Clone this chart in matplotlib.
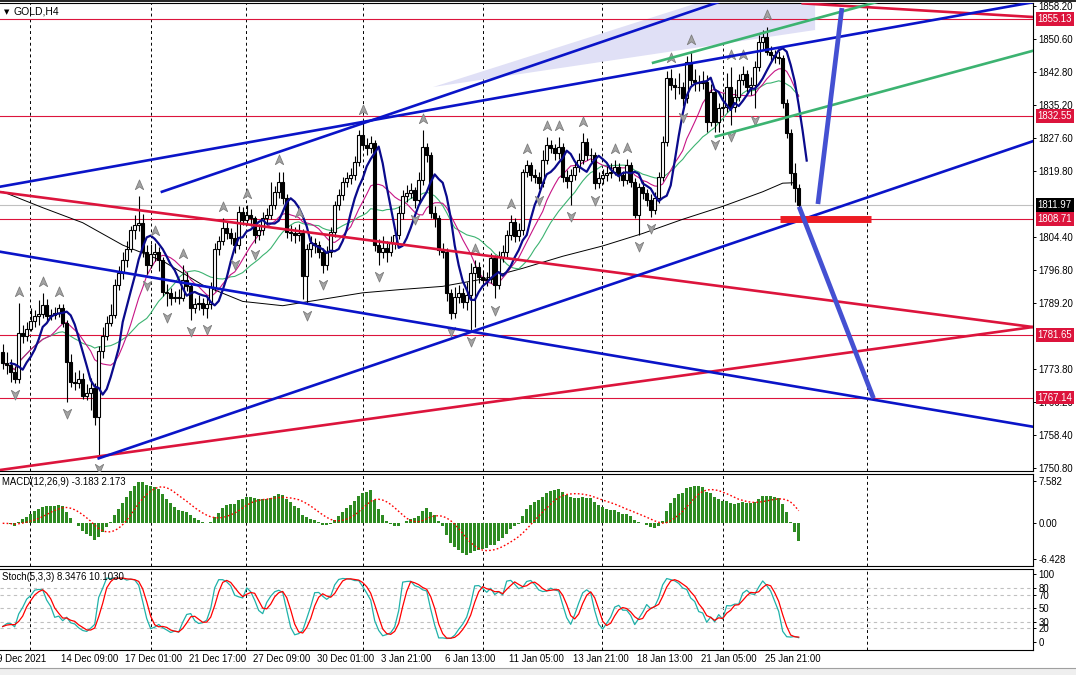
import numpy as np
import pandas as pd
import matplotlib
matplotlib.use("Agg")
import matplotlib.pyplot as plt
import matplotlib.transforms as mtransforms
from matplotlib.path import Path
from matplotlib.patches import Polygon, Rectangle
from matplotlib.lines import Line2D

plt.rcParams['font.family'] = ['Liberation Sans', 'DejaVu Sans']

# ---- GOLD H4 candles (bar index 0..199), open = previous close
first_open = 1777.8
closes = [
    1775.1, 1774.7, 1773.2, 1771.5, 1782.1, 1781.5, 1783.2, 1785.0, 1786.0, 1786.5,
    1788.7, 1786.0, 1786.3, 1786.7, 1787.9, 1784.4, 1775.5, 1770.8, 1770.5, 1771.5,
    1767.5, 1768.1, 1769.3, 1762.7, 1778.0, 1781.5, 1784.4, 1786.3, 1793.3, 1796.0,
    1799.1, 1801.8, 1806.1, 1807.3, 1807.7, 1801.1, 1798.0, 1800.5, 1801.0, 1799.1,
    1791.8, 1791.4, 1790.2, 1790.6, 1790.2, 1794.5, 1793.0, 1787.9, 1789.0, 1789.1,
    1787.9, 1789.0, 1792.9, 1801.8, 1803.5, 1806.5, 1805.3, 1804.2, 1802.6, 1810.4,
    1808.5, 1809.6, 1808.8, 1804.9, 1806.0, 1808.8, 1809.6, 1812.0, 1815.0, 1817.3,
    1813.5, 1805.7, 1805.3, 1804.9, 1805.5, 1795.3, 1801.8, 1803.0, 1802.6, 1801.1,
    1798.0, 1801.1, 1805.7, 1811.9, 1814.2, 1817.3, 1818.1, 1818.9, 1822.0, 1828.2,
    1825.9, 1825.1, 1826.3, 1802.6, 1801.1, 1802.0, 1801.1, 1803.0, 1805.0, 1810.0,
    1813.9, 1814.6, 1815.4, 1813.1, 1817.7, 1825.5, 1823.5, 1810.0, 1808.8, 1801.5,
    1801.1, 1791.4, 1786.7, 1790.6, 1791.4, 1789.4, 1791.0, 1796.0, 1797.6, 1795.2,
    1794.5, 1794.8, 1799.5, 1793.3, 1799.9, 1801.1, 1804.9, 1808.0, 1804.6, 1806.1,
    1819.7, 1821.2, 1818.9, 1818.5, 1817.0, 1822.4, 1825.9, 1825.1, 1823.9, 1825.5,
    1818.5, 1817.5, 1819.0, 1820.8, 1822.4, 1826.6, 1823.5, 1823.5, 1817.0, 1818.1,
    1818.9, 1819.3, 1819.7, 1820.8, 1818.9, 1817.7, 1821.2, 1817.3, 1809.6, 1816.0,
    1814.6, 1813.1, 1810.7, 1813.5, 1818.5, 1826.6, 1841.4, 1839.8, 1839.4, 1839.4,
    1836.7, 1845.2, 1841.0, 1840.6, 1840.2, 1840.6, 1831.3, 1838.3, 1831.3, 1834.4,
    1834.8, 1839.4, 1834.8, 1837.1, 1841.0, 1842.5, 1839.4, 1839.8, 1844.1, 1849.9,
    1851.1, 1847.6, 1846.8, 1846.4, 1846.0, 1835.6, 1828.6, 1819.3, 1815.8, 1811.97]
highs = [
    1779.5, 1777.8, 1776.0, 1774.4, 1789.1, 1784.0, 1784.6, 1787.9, 1787.5, 1789.9,
    1791.4, 1790.0, 1787.8, 1788.3, 1789.0, 1788.8, 1785.1, 1777.2, 1773.0, 1773.6,
    1772.8, 1770.4, 1771.8, 1770.5, 1779.2, 1783.6, 1786.1, 1788.9, 1794.6, 1797.8,
    1800.9, 1803.5, 1807.0, 1809.6, 1813.9, 1809.9, 1802.6, 1802.8, 1803.2, 1802.2,
    1799.9, 1793.5, 1792.6, 1792.0, 1792.4, 1797.9, 1796.4, 1793.6, 1790.4, 1791.0,
    1790.3, 1790.6, 1794.0, 1803.0, 1804.8, 1808.8, 1808.0, 1806.6, 1805.6, 1811.6,
    1811.5, 1811.9, 1810.9, 1809.4, 1807.6, 1810.2, 1811.2, 1817.3, 1816.3, 1819.7,
    1819.7, 1814.4, 1807.3, 1806.9, 1807.5, 1806.3, 1802.8, 1804.6, 1804.3, 1803.6,
    1802.0, 1802.4, 1806.8, 1812.9, 1815.7, 1818.4, 1819.6, 1820.5, 1823.4, 1829.4,
    1831.3, 1827.4, 1828.0, 1827.1, 1804.0, 1804.8, 1803.6, 1804.6, 1806.4, 1811.6,
    1815.3, 1816.5, 1817.1, 1816.2, 1819.5, 1829.4, 1826.3, 1824.2, 1811.6, 1809.7,
    1803.2, 1802.0, 1792.3, 1792.8, 1793.3, 1792.6, 1793.9, 1798.5, 1799.2, 1798.6,
    1796.6, 1796.3, 1800.8, 1800.4, 1801.2, 1802.7, 1806.0, 1809.6, 1809.0, 1807.8,
    1820.4, 1822.4, 1822.0, 1820.3, 1819.5, 1824.7, 1827.8, 1827.1, 1826.0, 1827.8,
    1826.3, 1820.0, 1820.4, 1822.2, 1824.0, 1828.6, 1827.5, 1825.2, 1824.3, 1819.6,
    1820.3, 1820.9, 1821.8, 1822.3, 1821.7, 1819.8, 1822.6, 1822.0, 1818.3, 1817.0,
    1817.6, 1815.6, 1814.4, 1815.0, 1819.5, 1828.0, 1843.0, 1843.6, 1841.5, 1842.6,
    1840.6, 1846.5, 1847.6, 1843.5, 1842.2, 1843.1, 1842.1, 1840.1, 1839.0, 1835.7,
    1837.9, 1842.6, 1844.1, 1838.9, 1842.4, 1844.2, 1843.4, 1841.6, 1845.5, 1851.5,
    1852.7, 1853.4, 1848.8, 1848.0, 1847.7, 1846.9, 1836.6, 1829.5, 1821.6, 1816.8]
lows = [
    1773.8, 1772.6, 1770.8, 1770.5, 1770.5, 1779.8, 1780.2, 1782.6, 1783.6, 1784.1,
    1785.6, 1785.0, 1785.2, 1785.4, 1785.9, 1783.6, 1766.2, 1769.5, 1769.0, 1769.4,
    1766.7, 1766.6, 1764.2, 1760.8, 1753.4, 1776.4, 1780.6, 1783.7, 1785.7, 1792.1,
    1794.8, 1797.6, 1800.9, 1804.0, 1805.9, 1799.8, 1795.9, 1797.2, 1798.8, 1796.6,
    1790.7, 1788.4, 1788.6, 1789.3, 1788.9, 1789.5, 1791.9, 1785.2, 1786.8, 1787.5,
    1786.3, 1785.6, 1787.8, 1792.0, 1800.4, 1802.7, 1803.9, 1802.9, 1800.8, 1801.8,
    1807.2, 1807.3, 1807.0, 1803.2, 1803.8, 1805.0, 1807.2, 1808.6, 1810.9, 1813.6,
    1812.1, 1804.2, 1803.6, 1803.0, 1803.5, 1790.0, 1789.0, 1799.9, 1800.8, 1799.7,
    1796.2, 1796.8, 1799.9, 1804.4, 1810.8, 1813.1, 1816.0, 1816.8, 1817.7, 1821.0,
    1824.9, 1823.6, 1823.9, 1801.2, 1798.0, 1799.6, 1798.7, 1800.0, 1801.6, 1803.9,
    1808.6, 1812.6, 1813.5, 1811.3, 1812.3, 1816.6, 1822.0, 1808.9, 1806.9, 1800.2,
    1799.6, 1789.6, 1785.3, 1785.6, 1789.2, 1787.9, 1787.6, 1782.8, 1783.6, 1793.8,
    1793.0, 1793.2, 1793.7, 1790.2, 1792.5, 1798.7, 1799.8, 1803.7, 1803.3, 1803.5,
    1805.0, 1818.4, 1817.5, 1817.0, 1815.6, 1816.2, 1821.4, 1823.9, 1822.4, 1822.7,
    1817.2, 1815.9, 1811.9, 1817.7, 1819.6, 1821.5, 1822.3, 1821.9, 1815.6, 1815.9,
    1816.7, 1817.5, 1818.2, 1818.8, 1817.6, 1816.4, 1816.8, 1816.1, 1808.8, 1804.9,
    1813.4, 1811.6, 1809.2, 1809.9, 1812.4, 1817.6, 1825.7, 1838.7, 1836.5, 1837.7,
    1834.9, 1835.6, 1839.8, 1838.5, 1838.5, 1838.9, 1829.0, 1830.4, 1828.8, 1829.0,
    1832.9, 1833.6, 1830.6, 1833.5, 1836.2, 1839.9, 1838.3, 1837.5, 1834.4, 1843.0,
    1848.0, 1846.8, 1845.2, 1845.0, 1844.6, 1834.4, 1827.4, 1816.5, 1812.7, 1811.5]

# long moving average (black), read at sample bars
slow_ma_bars = [0, 10, 20, 30, 40, 50, 60, 70, 80, 90, 100, 110, 120, 130, 140,
                150, 160, 170, 180, 190, 195, 198]
slow_ma = [1815.0, 1811.3, 1807.8, 1802.6, 1798.9, 1793.3, 1789.5, 1788.5, 1790.0,
           1791.5, 1792.3, 1793.0, 1794.7, 1797.2, 1800.0, 1802.4, 1805.3, 1808.6,
           1811.6, 1815.0, 1817.0, 1817.1]

date_bars = [-2, 14, 30, 46, 62, 78, 94, 110, 126, 142, 158, 174, 190]
date_labels = ["9 Dec 2021", "14 Dec 09:00", "17 Dec 01:00", "21 Dec 17:00",
               "27 Dec 09:00", "30 Dec 01:00", "3 Jan 21:00", "6 Jan 13:00",
               "11 Jan 05:00", "13 Jan 21:00", "18 Jan 13:00", "21 Jan 05:00",
               "25 Jan 21:00"]
grid_bars = [6.8, 37.1, 60.8, 90.1, 120.1, 149.8, 180.1, 216.1]

price_ticks = [1858.2, 1850.6, 1842.8, 1835.2, 1827.6, 1819.8, 1804.4, 1796.8,
               1789.2, 1773.8, 1766.2, 1758.4, 1750.8]
level_prices = [1855.13, 1832.55, 1808.71, 1781.65, 1767.14]
bid_price = 1811.97

# drawn objects: (bar, price) anchors
red_lines = [([-1, 258], [1814.98, 1783.49]),
             ([-1, 258], [1750.25, 1783.60]),
             ([200, 258], [1858.81, 1855.62])]
blue_lines = [([-1, 258], [1801.11, 1760.29]),
              ([24, 258], [1753.0, 1826.9]),
              ([-1, 258], [1816.12, 1859.15]),
              ([39.8, 190], [1815.0, 1862.6])]
green_lines = [([162.6, 220], [1845.0, 1859.5]),
               ([178.3, 258], [1827.85, 1847.9])]
proj_lines = [([203.8, 209.8], [1812.15, 1857.73]),
              ([199.1, 217.7], [1811.53, 1766.97])]
target_bar = ([194.3, 217.1], [1808.6, 1808.6])
wedge_bars = [107.6, 191.8, 203.1, 203.1]
wedge_prices = [1839.36, 1864.25, 1864.25, 1852.62]

# indicators from the candles
n = len(closes)
bars = np.arange(n)
c = pd.Series(closes)
o = pd.Series([first_open] + closes[:-1])
h = pd.Series(highs)
l = pd.Series(lows)

fast_ma = c.rolling(5, min_periods=1).mean()     # drawn shifted 2 bars
mid_ma = c.rolling(13, min_periods=1).mean()
trend_ma = c.rolling(21, min_periods=1).mean()

macd = c.ewm(span=12, adjust=False).mean() - c.ewm(span=26, adjust=False).mean()
macd_sig = macd.rolling(9, min_periods=1).mean()

hh = h.rolling(5, min_periods=1).max()
ll = l.rolling(5, min_periods=1).min()
stoch_k = (c - ll).rolling(3, min_periods=1).sum() / (hh - ll).rolling(3, min_periods=1).sum() * 100
stoch_d = stoch_k.rolling(3, min_periods=1).mean()

up_fr = [i for i in range(2, n - 2) if highs[i] > max(highs[i - 2], highs[i - 1]) and highs[i] >= max(highs[i + 1], highs[i + 2])]
dn_fr = [i for i in range(2, n - 2) if lows[i] < min(lows[i - 2], lows[i - 1]) and lows[i] <= min(lows[i + 1], lows[i + 2])]

# ---- figure
W, H = 1076, 675
fig = plt.figure(figsize=(W / 100, H / 100), dpi=100)
fig.patch.set_facecolor('white')


def panel(y_top, y_bot):
    return fig.add_axes([0, 1 - y_bot / H, 1033 / W, (y_bot - y_top) / H])


ax = panel(3, 471)
axm = panel(473.5, 566)
axs = panel(568.5, 650)

xlim = (-0.675, 257.575)
fs = 6.9
for a in (ax, axm, axs):
    a.set_xlim(*xlim)
    a.spines['left'].set_visible(False)
    for s in ('top', 'bottom', 'right'):
        a.spines[s].set_linewidth(0.8)
    a.yaxis.tick_right()
    a.tick_params(axis='y', length=2.5, width=0.7, pad=1.5, labelsize=fs, direction='out')
    a.set_xticks([])
    for gx in grid_bars:
        a.axvline(gx, color='black', lw=0.7, ls=(0, (3, 3)), zorder=1)

# main chart
ax.set_ylim(1750.06, 1858.9)
ax.set_yticks(price_ticks)
ax.set_yticklabels([f"{p:.2f}" for p in price_ticks])

wedge = Polygon(list(zip(wedge_bars, wedge_prices)), closed=True, fc='#E0E0F6', ec='none', zorder=1.5)
ax.add_patch(wedge)

for p in level_prices:
    ax.axhline(p, color='#DC143C', lw=0.8, zorder=2)
ax.axhline(bid_price, color='#C0C0C0', lw=0.8, zorder=2)

ax.plot(slow_ma_bars, slow_ma, color='black', lw=0.7, zorder=2.2)
ax.plot(bars, trend_ma, color='#3CB371', lw=0.8, zorder=2.2)
ax.plot(bars, mid_ma, color='#C71585', lw=0.8, zorder=2.2)

body_lo = np.minimum(o, c)
body_h = np.abs(c - o)
bull = (c >= o).values
ax.vlines(bars, l, h, color='black', lw=0.8, zorder=3)
ax.bar(bars[bull], body_h[bull], bottom=body_lo[bull], width=0.62, color='white',
       edgecolor='black', linewidth=0.8, zorder=3.2)
ax.bar(bars[~bull], body_h[~bull], bottom=body_lo[~bull], width=0.62, color='black',
       edgecolor='black', linewidth=0.8, zorder=3.2)

ax.plot(bars + 2, fast_ma, color='#0A0A8C', lw=1.6, zorder=3.5)

up_path = Path([(0, 1), (0.75, -0.75), (0, -0.25), (-0.75, -0.75), (0, 1)],
               [Path.MOVETO, Path.LINETO, Path.LINETO, Path.LINETO, Path.CLOSEPOLY])
dn_path = Path([(0, -1), (0.75, 0.75), (0, 0.25), (-0.75, 0.75), (0, -1)],
               [Path.MOVETO, Path.LINETO, Path.LINETO, Path.LINETO, Path.CLOSEPOLY])
ax.plot(up_fr, [highs[i] + 2.6 for i in up_fr], ls='none', marker=up_path, ms=8,
        mfc='#A3A3A3', mec='#7D7D7D', mew=0.6, zorder=3.6)
ax.plot(dn_fr, [lows[i] - 2.6 for i in dn_fr], ls='none', marker=dn_path, ms=8,
        mfc='#A3A3A3', mec='#7D7D7D', mew=0.6, zorder=3.6)

for xs, ys in red_lines:
    ax.plot(xs, ys, color='#DC143C', lw=1.9, zorder=4)
for xs, ys in blue_lines:
    ax.plot(xs, ys, color='#0A14C8', lw=1.9, zorder=4)
for xs, ys in green_lines:
    ax.plot(xs, ys, color='#3CB371', lw=1.9, zorder=4)
for xs, ys in proj_lines:
    ax.plot(xs, ys, color='#4450D2', lw=3.4, zorder=4.2, solid_capstyle='butt')
ax.plot(*target_bar, color='#ED1C24', lw=5, zorder=4.1, solid_capstyle='butt')


def price_box(a, y, txt, fc):
    a.text(1.0045, y, txt, transform=a.get_yaxis_transform(), ha='left', va='center',
           fontsize=fs, color='white', clip_on=False, zorder=10,
           bbox=dict(boxstyle='square,pad=0.2', fc=fc, ec='none'))


for p in level_prices:
    price_box(ax, p, f"{p:.2f}", '#DC143C')
price_box(ax, bid_price, f"{bid_price:.2f}", 'black')

# MACD
axm.set_ylim(-7.69, 8.97)
axm.bar(bars, macd, width=0.72, color='#2E8B22', zorder=3)
axm.plot(bars, macd_sig, color='red', lw=1.0, ls=(0, (1.2, 1.6)), zorder=4)
axm.set_yticks([7.582, 0, -6.428])
axm.set_yticklabels(['7.582', '0.00', '-6.428'])

# Stochastic
axs.set_ylim(-11.9, 108.5)
for lv in (20, 30, 50, 70, 80):
    axs.axhline(lv, color='#C0C0C0', lw=0.8, ls=(0, (3, 3)), zorder=1)
axs.plot(bars, stoch_k, color='#20B2AA', lw=0.9, zorder=3)
axs.plot(bars, stoch_d, color='red', lw=0.9, zorder=3.1)
axs.set_yticks([100, 80, 70, 50, 30, 20, 0])
axs.set_yticklabels(['100', '80', '70', '50', '30', '20', '0'])

# date labels under the lower panel
off = mtransforms.ScaledTranslation(2.5 / 100, 0, fig.dpi_scale_trans)
tr = mtransforms.blended_transform_factory(axs.transData, fig.transFigure) + off
for b, t in zip(date_bars, date_labels):
    axs.text(b, 1 - 659 / H, t, transform=tr, ha='left', va='center', fontsize=fs, clip_on=False)

# captions
fig.text(14 / W, 1 - 12 / H, "GOLD,H4", fontsize=7.5, va='center')
fig.text(4 / W, 1 - 12 / H, "\u25BC", fontsize=5, va='center', family=['DejaVu Sans'])
fig.text(2 / W, 1 - 482 / H, "MACD(12,26,9) -3.183 2.173", fontsize=fs, va='center')
fig.text(2 / W, 1 - 577 / H, "Stoch(5,3,3) 8.3476 10.1030", fontsize=fs, va='center')

# window frame bits
fig.add_artist(Line2D([0, 1], [1 - 0.6 / H, 1 - 0.6 / H], transform=fig.transFigure, color='black', lw=1.2))
fig.add_artist(Rectangle((0, 0), 1, 7 / H, transform=fig.transFigure, fc='#EFEFEF', ec='none'))
fig.add_artist(Line2D([0, 1], [7 / H, 7 / H], transform=fig.transFigure, color='#A0A0A0', lw=0.8))

fig.savefig("out.png", dpi=100)
